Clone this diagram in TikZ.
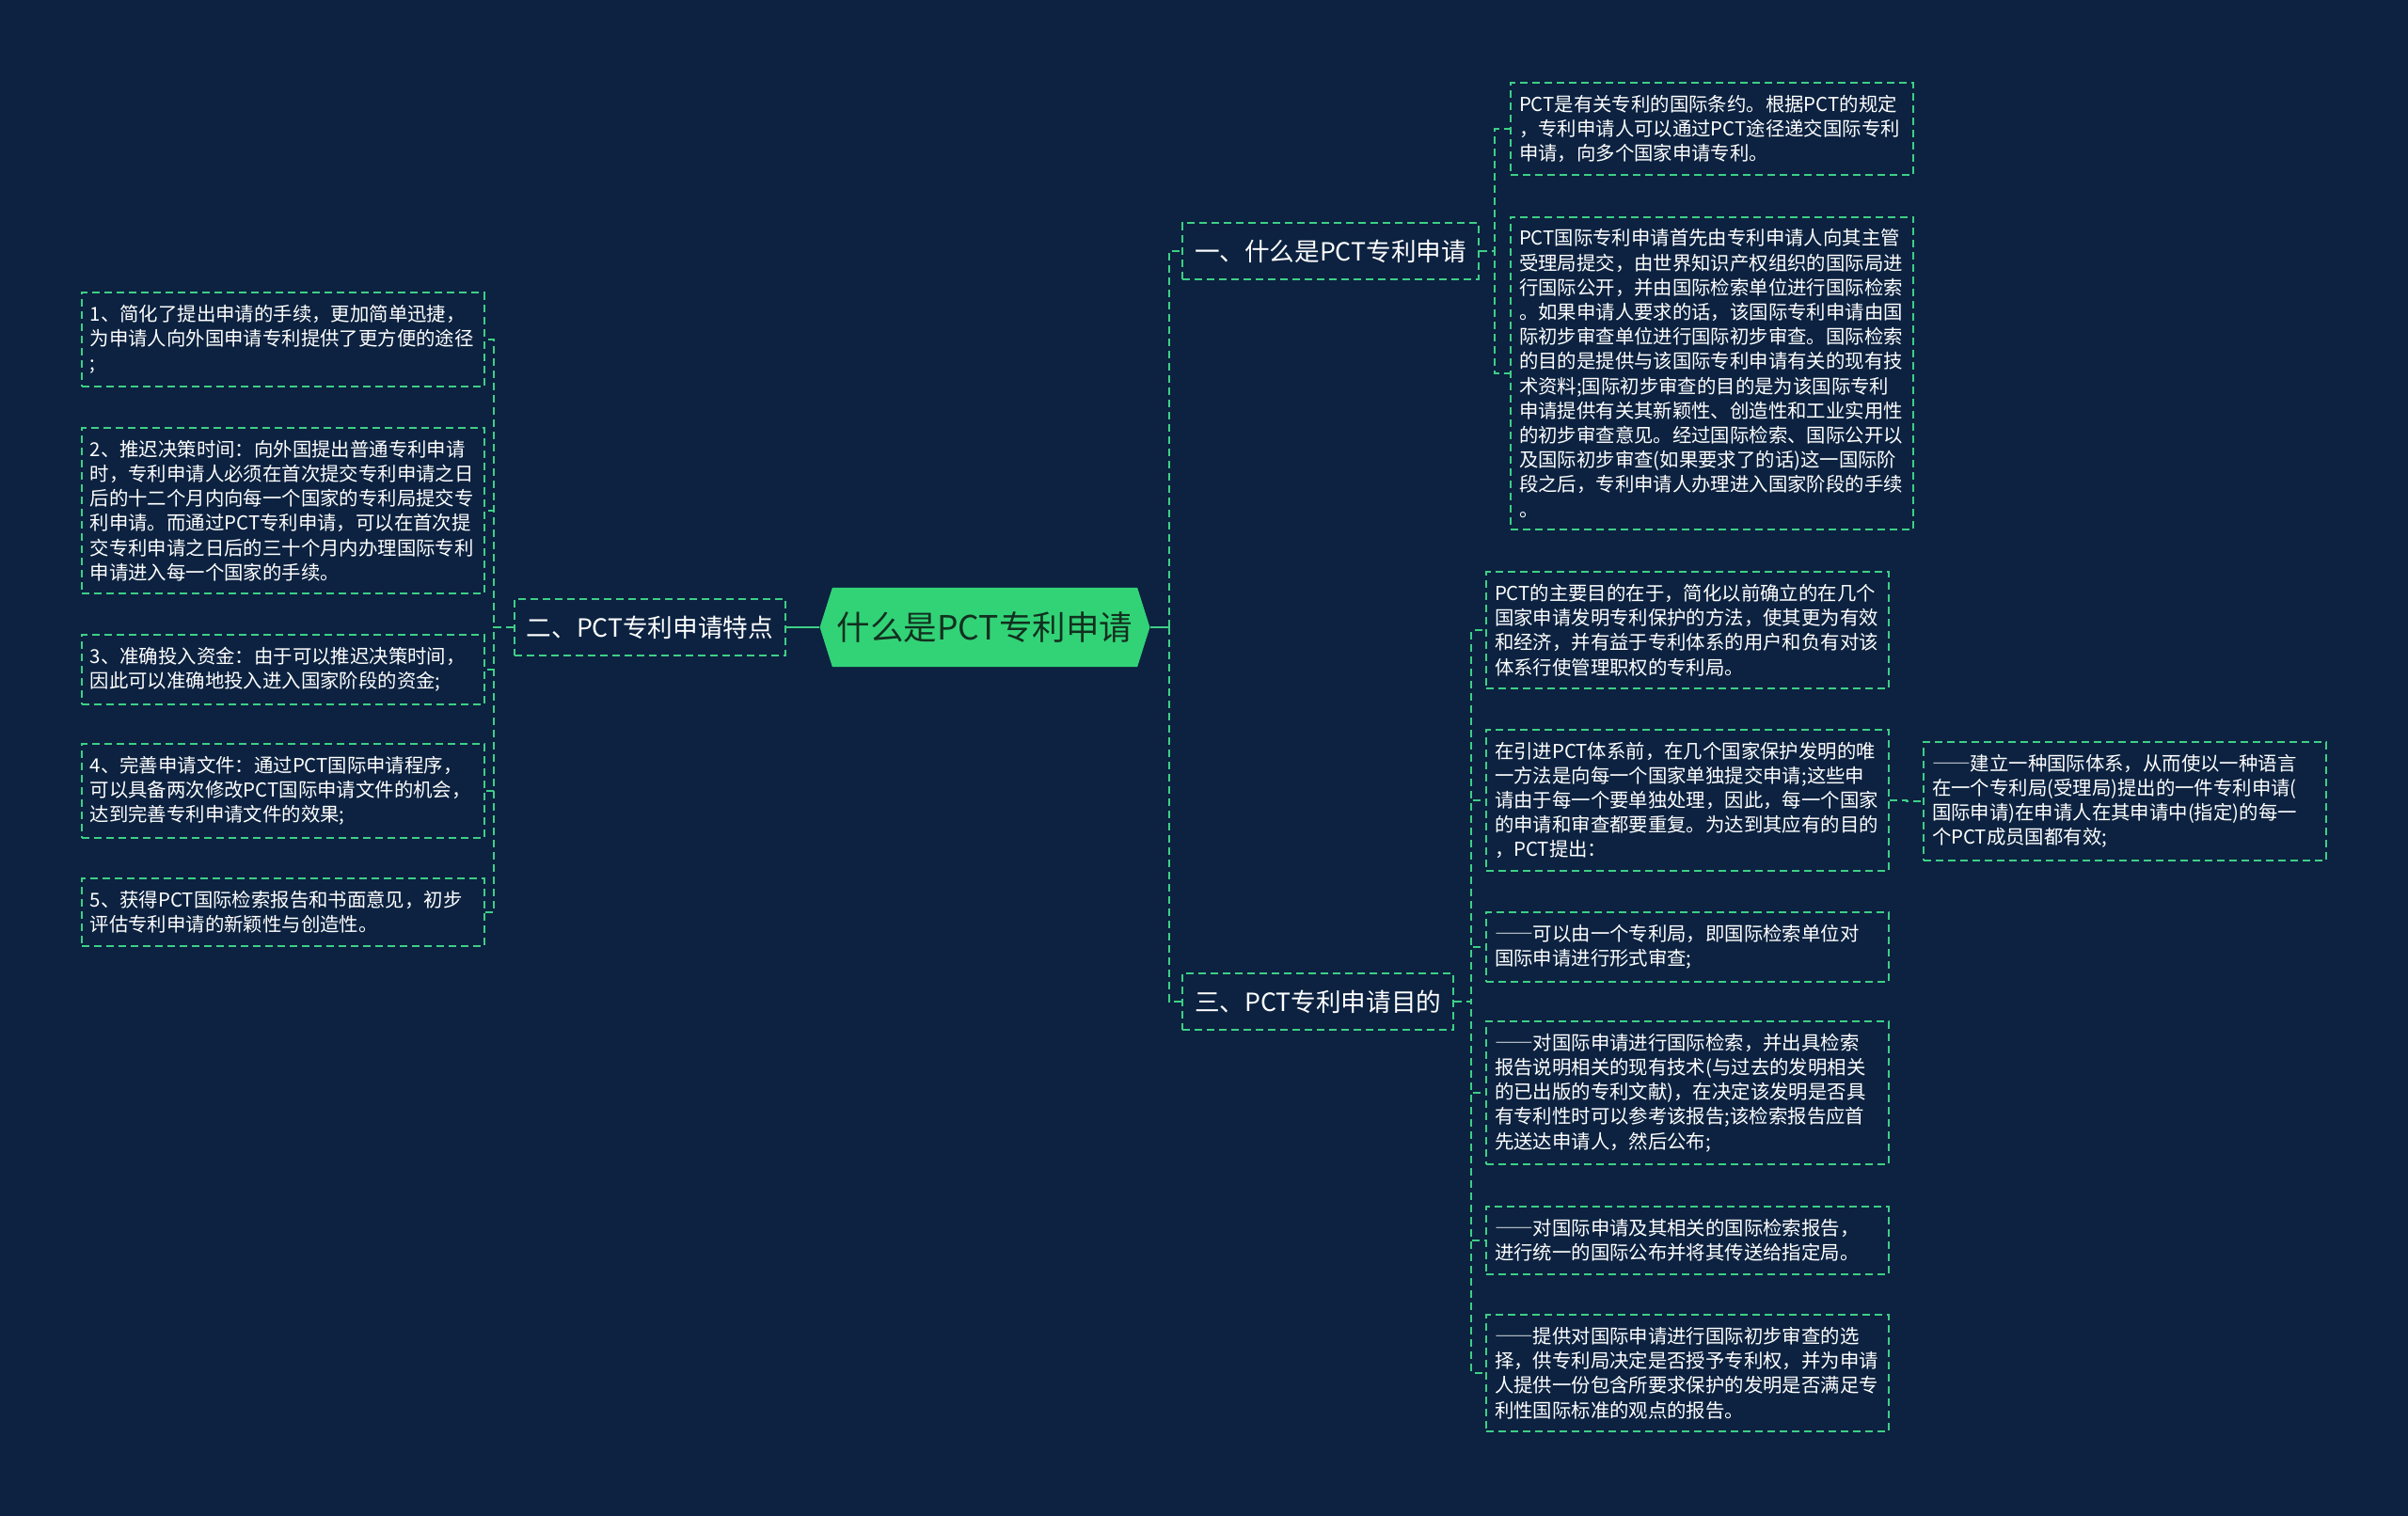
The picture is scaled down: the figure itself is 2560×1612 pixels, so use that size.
\documentclass[tikz,border=0pt]{standalone}
\usepackage{fontspec}
\setmainfont{Noto Sans CJK SC}
\usepackage{xcolor}
\usepackage{tikz}
\usetikzlibrary{shapes.symbols}

\definecolor{bgnavy}{HTML}{0C2240}
\definecolor{linegreen}{HTML}{3ECF86}
\definecolor{rootgreen}{HTML}{32D377}
\definecolor{roottext}{HTML}{12301F}

% full-width dash as printed in the picture
\newcommand{\fwdash}{{\addfontfeatures{CharacterWidth=Full}——}}

\tikzset{
    rootnode/.style={shape=signal, signal to=east and west, signal pointer angle=145,
        fill=rootgreen, text=roottext, minimum width=3.44cm, minimum height=0.84cm,
        inner xsep=0.05cm, font=\fontsize{10.1pt}{12pt}\selectfont},
    branchbox/.style={draw=linegreen, line width=0.57pt, dash pattern=on 0.08cm off 0.05cm,
        text=white, minimum height=0.60cm, inner xsep=0.13cm,
        font=\fontsize{7.57pt}{9pt}\selectfont},
    leafbox/.style={draw=linegreen, line width=0.57pt, dash pattern=on 0.08cm off 0.05cm,
        text=white, align=left, text width=4.10cm, inner xsep=0.09cm, inner ysep=0.13cm,
        font=\fontsize{5.8pt}{7.45pt}\selectfont},
    link/.style={draw=linegreen, line width=0.57pt, dash pattern=on 0.08cm off 0.05cm},
    rootlink/.style={draw=linegreen, line width=0.8pt}
}

\begin{document}
\begin{tikzpicture}[x=0.01cm, y=-0.01cm]
    % Nền
    \fill[bgnavy] (0,0) rectangle (2560,1612);

    % Chủ đề trung tâm và ba nhánh
    \node[rootnode] (root) at (1047,667) {什么是PCT专利申请};
    \node[branchbox, anchor=west] (what) at (1256,267) {一、什么是PCT专利申请};
    \node[branchbox, anchor=east] (feat) at (836,667) {二、PCT专利申请特点};
    \node[branchbox, anchor=west] (goal) at (1256,1065) {三、PCT专利申请目的};

    % Nhánh một
    \node[leafbox, anchor=west] (whatA) at (1605,137) {PCT是有关专利的国际条约。根据PCT的规定\\，专利申请人可以通过PCT途径递交国际专利\\申请，向多个国家申请专利。};
    \node[leafbox, anchor=west] (whatB) at (1605,397) {PCT国际专利申请首先由专利申请人向其主管\\受理局提交，由世界知识产权组织的国际局进\\行国际公开，并由国际检索单位进行国际检索\\。如果申请人要求的话，该国际专利申请由国\\际初步审查单位进行国际初步审查。国际检索\\的目的是提供与该国际专利申请有关的现有技\\术资料;国际初步审查的目的是为该国际专利\\申请提供有关其新颖性、创造性和工业实用性\\的初步审查意见。经过国际检索、国际公开以\\及国际初步审查(如果要求了的话)这一国际阶\\段之后，专利申请人办理进入国家阶段的手续\\。};

    % Nhánh hai
    \node[leafbox, anchor=east] (featA) at (516,361) {1、简化了提出申请的手续，更加简单迅捷，\\为申请人向外国申请专利提供了更方便的途径\\;};
    \node[leafbox, anchor=east] (featB) at (516,543) {2、推迟决策时间：向外国提出普通专利申请\\时，专利申请人必须在首次提交专利申请之日\\后的十二个月内向每一个国家的专利局提交专\\利申请。而通过PCT专利申请，可以在首次提\\交专利申请之日后的三十个月内办理国际专利\\申请进入每一个国家的手续。};
    \node[leafbox, anchor=east] (featC) at (516,712) {3、准确投入资金：由于可以推迟决策时间，\\因此可以准确地投入进入国家阶段的资金;};
    \node[leafbox, anchor=east] (featD) at (516,841) {4、完善申请文件：通过PCT国际申请程序，\\可以具备两次修改PCT国际申请文件的机会，\\达到完善专利申请文件的效果;};
    \node[leafbox, anchor=east] (featE) at (516,970) {5、获得PCT国际检索报告和书面意见，初步\\评估专利申请的新颖性与创造性。};

    % Nhánh ba
    \node[leafbox, anchor=west] (goalA) at (1579,670) {PCT的主要目的在于，简化以前确立的在几个\\国家申请发明专利保护的方法，使其更为有效\\和经济，并有益于专利体系的用户和负有对该\\体系行使管理职权的专利局。};
    \node[leafbox, anchor=west] (goalB) at (1579,851) {在引进PCT体系前，在几个国家保护发明的唯\\一方法是向每一个国家单独提交申请;这些申\\请由于每一个要单独处理，因此，每一个国家\\的申请和审查都要重复。为达到其应有的目的\\，PCT提出：};
    \node[leafbox, anchor=west] (goalBA) at (2044,852) {\fwdash 建立一种国际体系，从而使以一种语言\\在一个专利局(受理局)提出的一件专利申请(\\国际申请)在申请人在其申请中(指定)的每一\\个PCT成员国都有效;};
    \node[leafbox, anchor=west] (goalC) at (1579,1007) {\fwdash 可以由一个专利局，即国际检索单位对\\国际申请进行形式审查;};
    \node[leafbox, anchor=west] (goalD) at (1579,1162) {\fwdash 对国际申请进行国际检索，并出具检索\\报告说明相关的现有技术(与过去的发明相关\\的已出版的专利文献)，在决定该发明是否具\\有专利性时可以参考该报告;该检索报告应首\\先送达申请人，然后公布;};
    \node[leafbox, anchor=west] (goalE) at (1579,1319) {\fwdash 对国际申请及其相关的国际检索报告，\\进行统一的国际公布并将其传送给指定局。};
    \node[leafbox, anchor=west] (goalF) at (1579,1460) {\fwdash 提供对国际申请进行国际初步审查的选\\择，供专利局决定是否授予专利权，并为申请\\人提供一份包含所要求保护的发明是否满足专\\利性国际标准的观点的报告。};

    % Đường nối từ trung tâm
    \draw[rootlink] (root.west) -- (feat.east);
    \draw[rootlink] (root.east) -- ++(20,0) coordinate (trunk);
    \draw[link] (trunk) |- (what.west);
    \draw[link] (trunk) |- (goal.west);

    % Đường nối tới các ý
    \foreach \leaf in {featA, featB, featC, featD, featE}
        \draw[link] (feat.west) -- ++(-21,0) |- (\leaf.east);
    \foreach \leaf in {whatA, whatB}
        \draw[link] (what.east) -- ++(16,0) |- (\leaf.west);
    \foreach \leaf in {goalA, goalB, goalC, goalD, goalE, goalF}
        \draw[link] (goal.east) -- ++(18,0) |- (\leaf.west);
    \draw[link] (goalB.east) -- ++(18,0) |- (goalBA.west);
\end{tikzpicture}
\end{document}
